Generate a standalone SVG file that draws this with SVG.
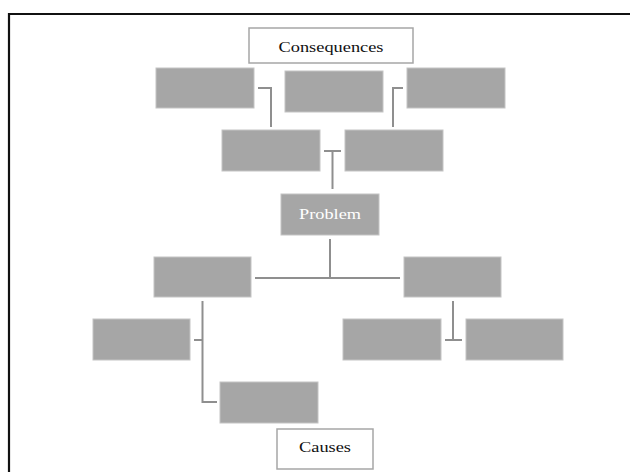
<svg xmlns="http://www.w3.org/2000/svg" width="630" height="472" viewBox="0 0 630 472">
  <style>
    .box { fill: #a6a6a6; stroke: #c4c4c4; stroke-width: 1; }
    .label { fill: #ffffff; stroke: #a6a6a6; stroke-width: 1.5; }
    .conn { fill: none; stroke: #8f8f8f; stroke-width: 2; }
    .t { font-family: "Liberation Serif", "Times New Roman", serif; font-size: 14px; text-anchor: middle; }
  </style>
  <rect width="630" height="472" fill="#ffffff"/>
  <path d="M9,472 V14 H630" fill="none" stroke="#111111" stroke-width="2.2"/>

  <g id="connectors">
    <path class="conn" d="M258,88 H271 V127"/>
    <path class="conn" d="M403,88 H393 V127"/>
    <path class="conn" d="M324,151 H341 M332.5,151 V189"/>
    <path class="conn" d="M330,239 V278 M255,278 H400" stroke="#808080"/>
    <path class="conn" d="M202.5,301 V402 H217 M194,340 H202.5"/>
    <path class="conn" d="M453,301 V340 M445,340 H462"/>
  </g>

  <g id="consequences">
    <rect class="label" x="249" y="28" width="164" height="35"/>
    <text class="t" x="331" y="52" fill="#111111" textLength="105" lengthAdjust="spacingAndGlyphs">Consequences</text>
  </g>
  <g id="cons-top-left"><rect class="box" x="156" y="68" width="98" height="40"/></g>
  <g id="cons-top-mid"><rect class="box" x="285" y="71" width="98" height="41"/></g>
  <g id="cons-top-right"><rect class="box" x="407" y="68" width="98" height="40"/></g>
  <g id="cons-mid-left"><rect class="box" x="222" y="130" width="98" height="41"/></g>
  <g id="cons-mid-right"><rect class="box" x="345" y="130" width="98" height="41"/></g>

  <g id="problem">
    <rect class="box" x="281" y="194" width="98" height="41"/>
    <text class="t" x="330" y="219" fill="#ffffff" font-size="15" textLength="62" lengthAdjust="spacingAndGlyphs">Problem</text>
  </g>

  <g id="cause-left"><rect class="box" x="154" y="257" width="97" height="40"/></g>
  <g id="cause-right"><rect class="box" x="404" y="257" width="97" height="40"/></g>
  <g id="cause-left-a"><rect class="box" x="93" y="319" width="97" height="41"/></g>
  <g id="cause-right-a"><rect class="box" x="343" y="319" width="98" height="41"/></g>
  <g id="cause-right-b"><rect class="box" x="466" y="319" width="97" height="41"/></g>
  <g id="cause-left-b"><rect class="box" x="220" y="382" width="98" height="41"/></g>

  <g id="causes">
    <rect class="label" x="277" y="429" width="96" height="40"/>
    <text class="t" x="325" y="452" fill="#111111" textLength="52" lengthAdjust="spacingAndGlyphs">Causes</text>
  </g>
</svg>
